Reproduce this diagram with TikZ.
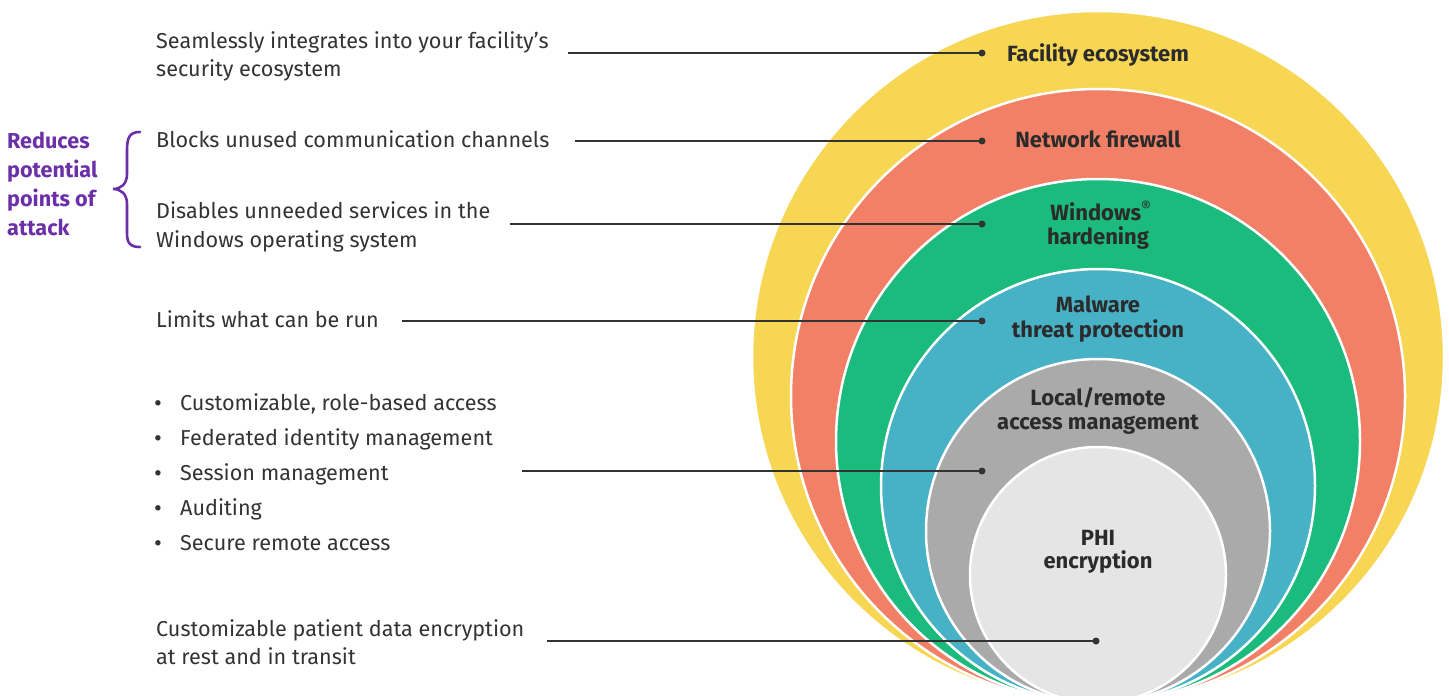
\documentclass[tikz,border=0pt]{standalone}
\usepackage{fontspec}
\setmainfont{Fira Sans}
\definecolor{cyel}{HTML}{F7D654}
\definecolor{cred}{HTML}{F28066}
\definecolor{cgrn}{HTML}{1ABB7C}
\definecolor{cblu}{HTML}{47B2C6}
\definecolor{cgry}{HTML}{AAAAAA}
\definecolor{clgt}{HTML}{E5E5E5}
\definecolor{txt}{HTML}{333333}
\definecolor{captxt}{HTML}{2B2B2B}
\definecolor{linec}{HTML}{333333}
\definecolor{purp}{HTML}{6B2FA8}
\begin{document}
\begin{tikzpicture}[x=1pt,y=-1pt,
  lbl/.style={anchor=base west, inner sep=0, font=\fontsize{21.6}{25}\selectfont, text=txt},
  bul/.style={anchor=base west, inner sep=0, font=\fontsize{24}{25}\selectfont, text=txt},
  ring/.style={draw=white, line width=2.5pt},
  captn/.style={anchor=base, inner sep=0, font=\fontsize{22}{25}\selectfont\bfseries, text=captxt},
  purlbl/.style={anchor=base west, inner sep=0, font=\fontsize{21.6}{25}\selectfont\bfseries, text=purp},
  conn/.style={draw=linec, line width=1.3pt},
  dotn/.style={circle, fill=linec, inner sep=0, minimum size=7pt}]
\useasboundingbox (0,0) rectangle (1449,696);
\fill[white] (0,0) rectangle (1449,696);
% rings
\filldraw[ring, fill=cyel] (1098,357) circle[radius=346pt];
\filldraw[ring, fill=cred] (1098,396) circle[radius=307pt];
\filldraw[ring, fill=cgrn] (1098,441) circle[radius=262pt];
\filldraw[ring, fill=cblu] (1098,486) circle[radius=217pt];
\filldraw[ring, fill=cgry] (1098,531) circle[radius=172pt];
\filldraw[ring, fill=clgt] (1098,575) circle[radius=128pt];
% ring captions
\node[captn] (cfac) at (1098,61) {Facility ecosystem};
\node[captn] (cnet) at (1098,147) {Network firewall};
\node[captn] (cwina) at (1101,220) {Windows\textsuperscript{\normalfont ®}};
\node[captn] (cwinb) at (1098,244) {hardening};
\node[captn] (cmala) at (1098,312) {Malware};
\node[captn] (cmalb) at (1098,337) {threat protection};
\node[captn] (cloca) at (1098,405) {Local/remote};
\node[captn] (clocb) at (1098,429) {access management};
\node[captn] (cphia) at (1098,545) {PHI};
\node[captn] (cphib) at (1098,568) {encryption};
% left texts
\node[lbl] (t1a) at (156,48) {Seamlessly integrates into your facility’s};
\node[lbl] (t1b) at (156,76) {security ecosystem};
\node[lbl] (t2) at (156,147) {Blocks unused communication channels};
\node[lbl] (t3a) at (156,218) {Disables unneeded services in the};
\node[lbl] (t3b) at (156,247) {Windows operating system};
\node[lbl] (t4) at (156,327) {Limits what can be run};
\node[bul] (b1) at (154,411) {•};
\node[bul] (b2) at (154,446) {•};
\node[bul] (b3) at (154,481) {•};
\node[bul] (b4) at (154,516) {•};
\node[bul] (b5) at (154,551) {•};
\node[lbl] (t5a) at (180,410) {Customizable, role-based access};
\node[lbl] (t5b) at (180,445) {Federated identity management};
\node[lbl] (t5c) at (180,480) {Session management};
\node[lbl] (t5d) at (180,515) {Auditing};
\node[lbl] (t5e) at (180,550) {Secure remote access};
\node[lbl] (t6a) at (156,636) {Customizable patient data encryption};
\node[lbl] (t6b) at (156,664) {at rest and in transit};
% purple
\node[purlbl] (p1) at (7,148) {Reduces};
\node[purlbl] (p2) at (7,177) {potential};
\node[purlbl] (p3) at (7,206) {points of};
\node[purlbl] (p4) at (7,235) {attack};
\draw[purp, line width=2.6pt, line cap=round]
  (140,132) .. controls (130,132) and (127,137) .. (127,150) -- (127,174)
  .. controls (127,184) and (121,189) .. (113,189)
  .. controls (121,189) and (127,194) .. (127,204) -- (127,233)
  .. controls (127,243) and (130,247) .. (140,247);
% connectors
\coordinate (s1) at (568,53);
\coordinate (s2) at (575,141);
\coordinate (s3) at (510,224);
\coordinate (s4) at (402,321);
\coordinate (s5) at (522,471);
\coordinate (s6) at (547,641);
\node[dotn] (d1) at (982,53) {};
\node[dotn] (d2) at (982,141) {};
\node[dotn] (d3) at (982,224) {};
\node[dotn] (d4) at (982,321) {};
\node[dotn] (d5) at (982,471) {};
\node[dotn] (d6) at (1096,641) {};
\draw[conn] (s1) -- (d1.center);
\draw[conn] (s2) -- (d2.center);
\draw[conn] (s3) -- (d3.center);
\draw[conn] (s4) -- (d4.center);
\draw[conn] (s5) -- (d5.center);
\draw[conn] (s6) -- (d6.center);
\end{tikzpicture}
\end{document}
